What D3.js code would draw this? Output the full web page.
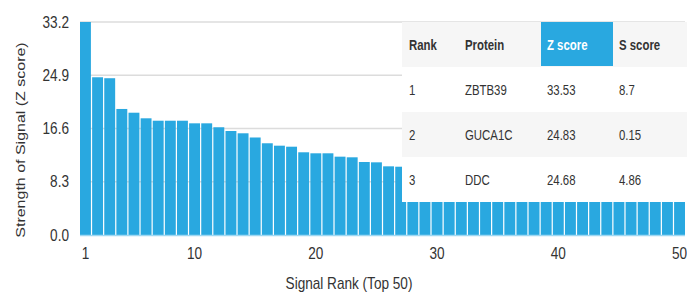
<!DOCTYPE html>
<html lang="en">
<head>
<meta charset="utf-8">
<title>Signal Rank</title>
<script src="https://d3js.org/d3.v7.min.js"></script>
<style>
  body { margin: 0; background: #fff; }
  text { font-family: "Liberation Sans", Arial, sans-serif; }
</style>
</head>
<body>
<script>
// values (ranks 28-50 sit under the table, estimated)
var ranks = d3.range(1, 51);
var zScores = [33.53, 24.83, 24.68, 19.84, 19.25, 18.37, 17.99, 17.99, 17.99, 17.58,
               17.58, 16.96, 16.37, 16.01, 15.35, 14.44, 14.06, 13.90, 13.02, 12.86,
               12.86, 12.33, 12.23, 11.49, 11.44, 10.81, 10.75, 10.6, 10.4, 10.2,
               10.0, 9.9, 9.7, 9.6, 9.4, 9.3, 9.2, 9.0, 8.9, 8.8,
               8.7, 8.6, 8.5, 8.4, 8.3, 8.2, 8.1, 8.0, 7.9, 7.8];
var yTickLabels = ["0.0", "8.3", "16.6", "24.9", "33.2"];
var xTicks = [1, 10, 20, 30, 40, 50];

var tableHeader = ["Rank", "Protein", "Z score", "S score"];
var tableRows = [
  ["1", "ZBTB39", "33.53", "8.7"],
  ["2", "GUCA1C", "24.83", "0.15"],
  ["3", "DDC", "24.68", "4.86"]
];

var w = 687, h = 294;
var blue = "#29a8e0";
var plotL = 80, plotR = 685, plotT = 22, plotB = 235;

var svg = d3.select("body").append("svg")
  .attr("width", w)
  .attr("height", h);

var x = d3.scaleBand().domain(ranks).range([plotL, plotR]).paddingInner(0.1).paddingOuter(0);
var yMax = d3.max(zScores);
var y = d3.scaleLinear().domain([0, yMax]).range([plotB, plotT]);

// gridlines at quarters of the max
var gridVals = d3.range(5).map(function(i) { return yMax * i / 4; });
svg.append("g").selectAll("line")
  .data(gridVals.slice(1))
  .enter().append("line")
  .attr("x1", plotL).attr("x2", plotR)
  .attr("y1", function(d) { return y(d); })
  .attr("y2", function(d) { return y(d); })
  .style("stroke", "#dcdcdc")
  .style("stroke-width", "1.5px");

// bars
svg.append("g").selectAll("rect")
  .data(zScores)
  .enter().append("rect")
  .attr("x", function(d, i) { return x(ranks[i]); })
  .attr("y", function(d) { return y(d); })
  .attr("width", x.bandwidth())
  .attr("height", function(d) { return plotB - y(d); })
  .style("fill", blue);

// light baseline under the bars
svg.append("line")
  .attr("x1", plotL).attr("x2", plotR)
  .attr("y1", plotB + 0.5).attr("y2", plotB + 0.5)
  .style("stroke", "#9fd8f2").style("stroke-width", "1.5px");

// squeezed text helper (the picture is horizontally compressed)
function label(g, txt, tx, ty, opt) {
  opt = opt || {};
  var sx = opt.sx || 0.85;
  return g.append("text")
    .attr("transform", "translate(" + tx + "," + ty + ")" + (opt.rot ? " rotate(" + opt.rot + ")" : "") +
          (opt.rot ? " scale(1," + sx + ")" : " scale(" + sx + ",1)"))
    .attr("text-anchor", opt.anchor || "start")
    .attr("dy", "0.35em")
    .style("font-size", (opt.size || 16) + "px")
    .style("font-weight", opt.weight || "normal")
    .style("fill", opt.fill || "#333")
    .text(txt);
}

// y axis labels
var yAx = svg.append("g");
gridVals.forEach(function(v, i) {
  label(yAx, yTickLabels[i], 69, y(v), {anchor: "end"});
});

// x axis labels via a linear scale over band centres
var xr = d3.scaleLinear().domain([1, 50])
  .range([x(1) + x.bandwidth() / 2, x(50) + x.bandwidth() / 2]);
var xAx = svg.append("g");
xTicks.forEach(function(t) {
  label(xAx, String(t), xr(t), 253, {anchor: "middle"});
});

label(svg, "Signal Rank (Top 50)", 349, 283, {anchor: "middle"});
label(svg, "Strength of Signal (Z score)", 20, 140, {anchor: "middle", rot: -90});

// table overlay
var tx0 = 402, ty0 = 22, rowH = 45;
var colX = [409, 465, 547, 619];
var table = svg.append("g");
var allRows = [tableHeader].concat(tableRows);
allRows.forEach(function(row, r) {
  table.append("rect")
    .attr("x", tx0).attr("y", ty0 + r * rowH)
    .attr("width", w - tx0).attr("height", rowH)
    .style("fill", r % 2 === 0 ? "#f6f6f6" : "#ffffff");
});
table.append("rect")
  .attr("x", 541).attr("y", ty0)
  .attr("width", 72).attr("height", rowH - 1)
  .style("fill", blue);
allRows.forEach(function(row, r) {
  row.forEach(function(cell, c) {
    label(table, cell, colX[c], ty0 + r * rowH + rowH / 2, {
      size: 15, sx: 0.76,
      weight: r === 0 ? "bold" : "normal",
      fill: (r === 0 && c === 2) ? "#ffffff" : "#333333"
    });
  });
});
</script>
</body>
</html>
